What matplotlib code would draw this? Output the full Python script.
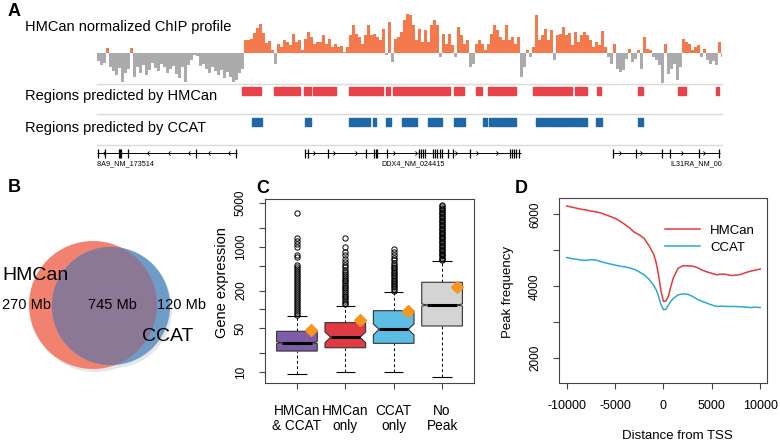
import numpy as np
import matplotlib.pyplot as plt
from matplotlib.patches import Circle, Polygon
from matplotlib.path import Path

plt.rcParams['font.family'] = ['Liberation Sans', 'DejaVu Sans']

W, H = 780, 442

# ---------------- panel A data (positions in kb along the window) ----------------
profile = [-8, -12, -10, 5, -14, -18, -22, -15, -29, -20, -16, 5, -24, -14, -20, -12, -22, -17, -10, -15,
           -18, -11, -14, -20, -16, -13, -21, -25, -14, -29, -12, -7, -2, -3, -13, -11, -16, -20, -14, -18,
           -22, -17, -25, -19, -24, -29, -27, -20, -16, 13, 13, 14, 20, 25, 29, 20, 10, 12, 3, -11,
           9, 6, 13, 11, 8, 19, 11, 13, 3, 14, 21, 16, 9, 11, 11, 18, 9, 14, 6, 9,
           6, 7, 1, 6, 18, 28, 19, 16, 9, 18, 28, 18, 19, 16, 13, 24, -2, 31, -9, 14,
           16, 21, 33, 39, 38, 28, 13, 24, 11, 23, 11, 28, 33, 28, -4, 19, 9, 19, 8, -4,
           26, 18, 9, 13, -14, -11, 9, 13, 9, 3, 9, 19, 28, 23, 16, 13, 28, 13, 16, 9,
           16, -24, -14, 3, -4, 6, 38, 13, 18, 24, 13, 23, -7, 18, 19, 26, 18, 20, 8, 21,
           11, 18, 21, 18, 13, 6, 11, 8, 22, 6, -4, -11, 9, -16, -19, -17, -6, 4, -9, -6,
           3, -16, 16, 4, 3, -4, -7, -12, -30, 9, -21, -16, -11, -27, -14, 14, 11, 9, 3, 6,
           8, -4, 4, -7, -11, -8, -12, 11, -4]

hmcan_start = [48.3, 59.0, 69.0, 72.0, 84.0, 96.3, 98.7, 119.0, 126.3, 130.3, 145.3, 159.3, 166.7, 180.3, 193.7, 206.3]
hmcan_end = [54.7, 67.7, 71.3, 79.7, 95.3, 97.7, 117.7, 122.3, 128.3, 139.7, 158.3, 163.3, 168.0, 182.0, 196.3, 207.3]
ccat_start = [51.7, 69.3, 84.0, 88.7, 92.0, 96.3, 101.7, 110.3, 119.0, 128.7, 130.7, 146.3, 150.7, 159.3, 166.3, 180.3]
ccat_end = [55.0, 71.3, 88.3, 91.0, 93.0, 98.0, 106.7, 115.0, 122.7, 130.0, 139.7, 150.3, 159.0, 163.3, 168.3, 182.0]

gene_names = ['SLC38A9_NM_173514', 'DDX4_NM_024415', 'IL31RA_NM_001242638']
gene_start = [0.0, 69.3, 172.0]
gene_end = [46.7, 141.3, 207.7]
gene_strand = [-1, 1, 1]
gene_exons = [
    [0.3, 2.7, 7.3, 7.7, 8.0, 10.3, 33.0, 46.3],
    [69.3, 70.3, 77.0, 89.7, 92.3, 93.0, 93.3, 96.7, 107.3, 108.0, 108.7, 109.3, 112.0, 112.7,
     113.3, 114.3, 115.0, 117.0, 118.7, 124.3, 137.7, 138.3, 139.0, 139.7, 140.7],
    [172.0, 179.7, 188.3, 191.0, 200.7, 207.3],
]
gene_chevrons = [
    [2.0, 16.7, 23.7, 30.3, 37.0, 43.7],
    [72.7, 79.3, 86.7, 99.3, 106.7, 120.0, 127.0, 133.7],
    [174.7, 181.7, 195.3, 202.7],
]

# ---------------- panel B data ----------------
venn_only_hmcan = 270
venn_both = 745
venn_only_ccat = 120

# ---------------- panel C data ----------------
groups = ['HMCan\n& CCAT', 'HMCan\nonly', 'CCAT\nonly', 'No\nPeak']
box_colors = ['#7D5EA6', '#E23A44', '#5CBDE5', '#D4D4D4']
q1 = [21.6, 24.4, 28.7, 54.3]
q3 = [44.7, 61.4, 95.3, 271]
med = [29.4, 35.8, 48.1, 117.5]
ci_lo = [28.4, 29.4, 39.0, 113]
ci_hi = [30.4, 43.6, 58.5, 122]
whis_lo = [9.3, 10.0, 10.0, 8.4]
whis_hi = [79, 114.6, 192, 600]
means = [46.4, 67.8, 94, 231]
fliers = [
    [80, 86, 93, 100, 108, 116, 125, 134, 144, 155, 167, 180, 194, 209, 225, 242, 260, 280, 302,
     325, 350, 377, 406, 437, 470, 506, 679, 740, 1000, 1110, 1250, 1360, 3430],
    [120, 128, 136, 145, 155, 166, 177, 189, 202, 216, 230, 246, 262, 280, 300, 320, 345, 370,
     400, 430, 470, 520, 570, 640, 740, 835, 985, 1380],
    [200, 212, 225, 238, 252, 267, 283, 300, 318, 337, 357, 378, 400, 425, 450, 480, 520, 560,
     610, 670, 740, 820, 920],
    [610, 640, 670, 700, 735, 770, 810, 850, 890, 935, 980, 1030, 1080, 1130, 1190, 1250, 1310,
     1370, 1440, 1510, 1590, 1670, 1750, 1840, 1930, 2030, 2130, 2230, 2340, 2460, 2580, 2710,
     2850, 2990, 3140, 3300, 3460, 3640, 3820, 4010, 4210, 4420, 4640],
]

# ---------------- panel D data ----------------
dist = [-10000, -9500, -9000, -8500, -8000, -7500, -7000, -6500, -6000, -5500, -5000, -4500, -4000,
        -3500, -3000, -2500, -2000, -1500, -1000, -750, -500, -250, 0, 250, 500, 750, 1000, 1500,
        2000, 2500, 3000, 3500, 4000, 4500, 5000, 5500, 6000, 6500, 7000, 7500, 8000, 8500, 9000,
        9500, 10000]
freq_hmcan = [6230, 6200, 6170, 6140, 6120, 6090, 6070, 6040, 5990, 5940, 5890, 5810, 5720, 5620,
              5500, 5430, 5330, 5130, 4880, 4650, 4300, 3850, 3580, 3590, 3720, 3980, 4220, 4500,
              4570, 4570, 4560, 4520, 4450, 4400, 4360, 4320, 4340, 4330, 4300, 4310, 4330, 4380,
              4420, 4450, 4480]
freq_ccat = [4800, 4770, 4750, 4730, 4720, 4740, 4730, 4690, 4650, 4620, 4590, 4560, 4540, 4510,
             4470, 4400, 4320, 4200, 4020, 3900, 3720, 3480, 3350, 3360, 3480, 3580, 3660, 3760,
             3790, 3780, 3720, 3640, 3580, 3530, 3480, 3440, 3450, 3440, 3440, 3440, 3430, 3420,
             3410, 3420, 3410]


def rect(x0, y0, x1, y1):
    return [x0 / W, 1 - y1 / H, (x1 - x0) / W, (y1 - y0) / H]


def ftext(x, y, s, **kw):
    fig.text(x / W, 1 - y / H, s, **kw)


fig = plt.figure(figsize=(7.8, 4.42), dpi=100)

# ================= panel A =================
ftext(8, 12, 'A', fontsize=13, fontweight='bold', va='center')
ftext(25, 27, 'HMCan normalized ChIP profile', fontsize=10.5, va='center')
ftext(25, 96, 'Regions predicted by HMCan', fontsize=10.5, va='center')
ftext(25, 128, 'Regions predicted by CCAT', fontsize=10.5, va='center')

ax_p = fig.add_axes(rect(97, 10, 722, 83))
prof = np.array(profile)
xs = np.arange(len(prof)) + 0.5
cols = np.where(prof >= 0, '#F4794C', '#ABABAB')
ax_p.bar(xs, prof, width=0.75, color=cols, linewidth=0)
ax_p.set_xlim(0, 208.33)
ax_p.set_ylim(-30, 43)
ax_p.axis('off')

ax_t = fig.add_axes(rect(97, 83, 722, 170))
ax_t.set_xlim(0, 208.33)
ax_t.set_ylim(170, 83)
ax_t.axis('off')
for yy in [83.5, 114, 145]:
    ax_t.axhline(yy, color='#DADADA', lw=1, clip_on=False)
ax_t.broken_barh(list(zip(hmcan_start, np.subtract(hmcan_end, hmcan_start))), (87, 8), color='#E8434A')
ax_t.broken_barh(list(zip(ccat_start, np.subtract(ccat_end, ccat_start))), (118, 8), color='#1F68A8')

chev_l = Path([(1, 1), (0, 0), (1, -1)], [Path.MOVETO, Path.LINETO, Path.LINETO])
chev_r = Path([(-1, 1), (0, 0), (-1, -1)], [Path.MOVETO, Path.LINETO, Path.LINETO])
for k in range(len(gene_names)):
    ax_t.hlines(153, gene_start[k], gene_end[k], color='black', lw=0.7)
    ax_t.vlines(gene_exons[k], 148.5, 157.5, color='black', lw=0.9)
    mk = chev_l if gene_strand[k] < 0 else chev_r
    ax_t.plot(gene_chevrons[k], [153] * len(gene_chevrons[k]), linestyle='none', marker=mk,
              ms=3, mfc='none', mec='black', mew=0.6)
ax_t.text(gene_end[0] - 27.5, 164, gene_names[0], fontsize=5.2, ha='right', va='center', clip_on=True)
ax_t.text((gene_start[1] + gene_end[1]) / 2, 164, gene_names[1], fontsize=5.2, ha='center', va='center',
          clip_on=True)
ax_t.text(gene_start[2] + 19, 164, gene_names[2], fontsize=5.2, ha='left', va='center', clip_on=True)

# ================= panel B =================
ftext(8, 187, 'B', fontsize=13, fontweight='bold', va='center')
ax_b = fig.add_axes(rect(0, 180, 200, 440))
ax_b.set_xlim(0, 200)
ax_b.set_ylim(440, 180)
ax_b.axis('off')
scale = 64 / np.sqrt(venn_only_hmcan + venn_both)
r_h = scale * np.sqrt(venn_only_hmcan + venn_both)
r_c = scale * np.sqrt(venn_only_ccat + venn_both)
c_h = (93, 305)
c_c = (111, 306)
ax_b.add_patch(Circle((c_h[0] + 2, c_h[1] + 3), r_h, color='#E6E6E6', lw=0))
ax_b.add_patch(Circle((c_c[0] + 2, c_c[1] + 3), r_c, color='#E6E6E6', lw=0))
circ_h = Circle(c_h, r_h, facecolor='#F1826F', edgecolor='none')
ax_b.add_patch(circ_h)
ax_b.add_patch(Circle(c_c, r_c, facecolor='#6E9CC7', edgecolor='none'))
ov = Circle(c_c, r_c, facecolor='#8B7895', edgecolor='none')
ax_b.add_patch(ov)
ov.set_clip_path(circ_h)
ax_b.text(2, 276, 'HMCan', fontsize=14, va='center', ha='left')
ax_b.text(2, 305, '%d Mb' % venn_only_hmcan, fontsize=10.5, va='center', ha='left')
ax_b.text(112, 305, '%d Mb' % venn_both, fontsize=10.5, va='center', ha='center')
ax_b.text(157, 305, '%d Mb' % venn_only_ccat, fontsize=10.5, va='center', ha='left')
ax_b.text(142, 337, 'CCAT', fontsize=14, va='center', ha='left')

# ================= panel C =================
ftext(256, 188, 'C', fontsize=13, fontweight='bold', va='center')
ax_c = fig.add_axes(rect(265, 199, 474, 383))
ax_c.set_yscale('log')
ax_c.set_xlim(0.34, 4.66)
ax_c.set_ylim(6.67, 5800)
bw = 0.84
for i in range(len(groups)):
    x = i + 1
    hw = bw / 2
    nw = hw * 0.72
    verts = [(x - hw, q1[i]), (x + hw, q1[i]), (x + hw, ci_lo[i]), (x + nw, med[i]),
             (x + hw, ci_hi[i]), (x + hw, q3[i]), (x - hw, q3[i]), (x - hw, ci_hi[i]),
             (x - nw, med[i]), (x - hw, ci_lo[i])]
    ax_c.add_patch(Polygon(verts, closed=True, facecolor=box_colors[i], edgecolor='#333333', lw=0.8, zorder=3))
    ax_c.hlines(med[i], x - nw, x + nw, color='black', lw=2.2, zorder=4)
    ax_c.vlines(x, whis_lo[i], q1[i], color='black', lw=0.7, linestyles=(0, (3, 2.5)), zorder=2)
    ax_c.vlines(x, q3[i], whis_hi[i], color='black', lw=0.7, linestyles=(0, (3, 2.5)), zorder=2)
    ax_c.hlines([whis_lo[i], whis_hi[i]], x - 0.2, x + 0.2, color='black', lw=0.8, zorder=2)
    ax_c.plot([x] * len(fliers[i]), fliers[i], linestyle='none', marker='o', ms=3.8,
              mfc='none', mec='black', mew=0.7, zorder=2)
    ax_c.plot(x + 0.3, means[i], marker='D', ms=6.5, color='#F7961F', linestyle='none', zorder=5)
yt = [10, 20, 50, 100, 200, 500, 1000, 2000, 5000]
ax_c.set_yticks(yt)
ax_c.set_yticklabels(['10', '', '50', '', '200', '', '1000', '', '5000'], rotation=90, va='center', fontsize=8.5)
ax_c.yaxis.set_minor_locator(plt.NullLocator())
ax_c.set_xticks([1, 2, 3, 4])
ax_c.set_xticklabels(groups, fontsize=9.8, linespacing=1.1)
ax_c.tick_params(axis='y', length=4, pad=9, color='#444444')
ax_c.tick_params(axis='x', length=4, pad=11, color='#444444')
for s in ax_c.spines.values():
    s.set_color('#444444')
    s.set_linewidth(0.8)
ftext(222, 283, 'Gene expression', fontsize=10.5, rotation=90, va='center', ha='center')

# ================= panel D =================
ftext(515, 188, 'D', fontsize=13, fontweight='bold', va='center')
ax_d = fig.add_axes(rect(559, 198, 767, 383))
ax_d.plot(dist, freq_hmcan, color='#E5383F', lw=1.1, label='HMCan')
ax_d.plot(dist, freq_ccat, color='#2AA8D8', lw=1.1, label='CCAT')
ax_d.set_xlim(-10800, 10700)
ax_d.set_ylim(1314, 6453)
ax_d.set_xticks([-10000, -5000, 0, 5000, 10000])
ax_d.set_xticklabels(['-10000', '-5000', '0', '5000', '10000'], fontsize=9)
ax_d.set_yticks([2000, 3000, 4000, 5000, 6000])
ax_d.set_yticklabels(['2000', '', '4000', '', '6000'], rotation=90, va='center', fontsize=8.5)
ax_d.tick_params(axis='y', length=4, pad=9, color='#444444')
ax_d.tick_params(axis='x', length=4, pad=8, color='#444444')
for s in ax_d.spines.values():
    s.set_color('#444444')
    s.set_linewidth(0.8)
ax_d.legend(loc='upper right', bbox_to_anchor=(1.0, 0.92), frameon=False, fontsize=9.5,
            handlelength=2.6, labelspacing=0.35)
ftext(508, 292, 'Peak frequency', fontsize=9.5, rotation=90, va='center', ha='center')
ftext(677, 436, 'Distance from TSS', fontsize=9.5, va='center', ha='center')

fig.savefig('out.png', dpi=100)
